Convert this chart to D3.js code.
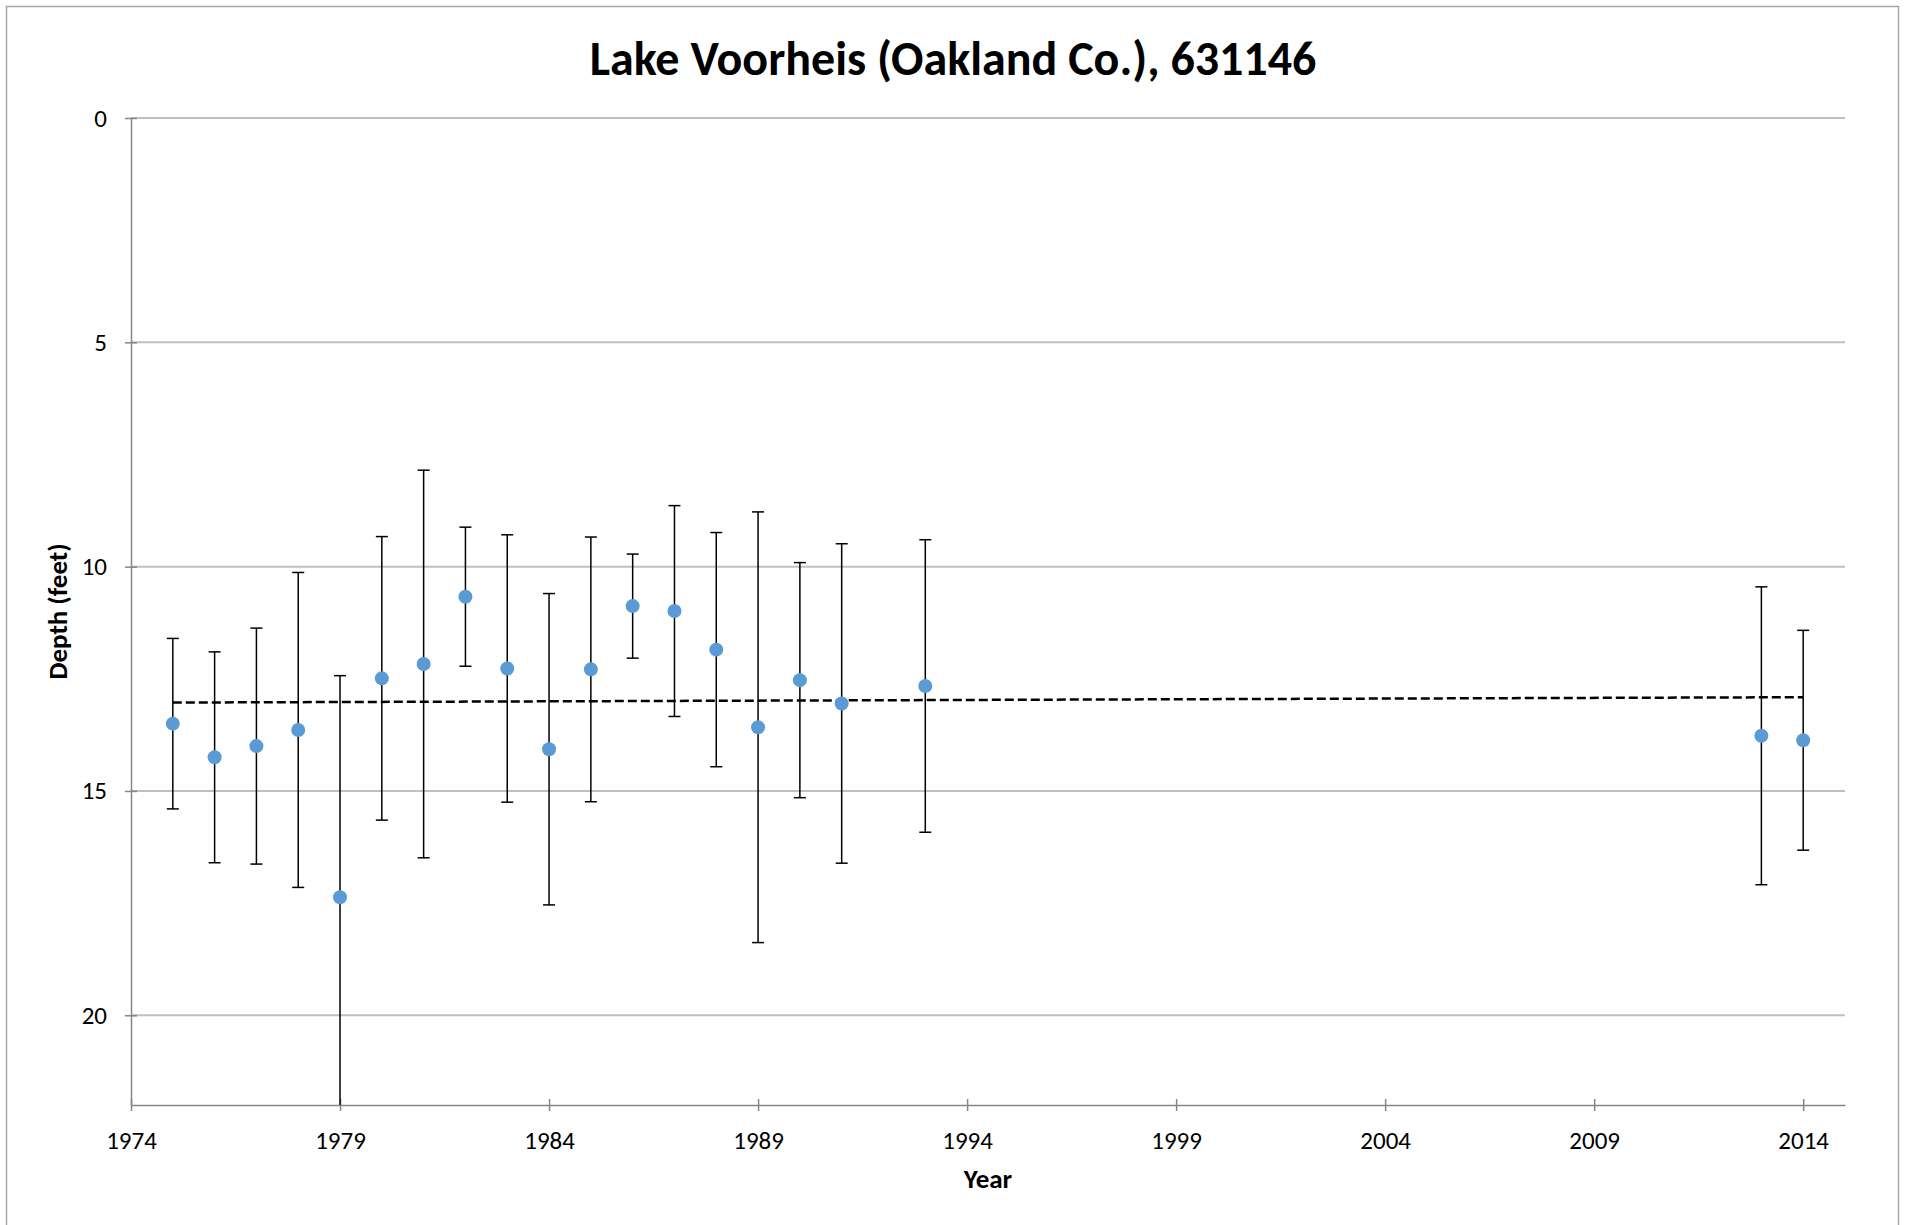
<!DOCTYPE html>
<html>
<head>
<meta charset="utf-8">
<script src="https://cdn.jsdelivr.net/npm/d3@7"></script>
<style>
  body { margin: 0; background: #fff; }
  text { font-family: Carlito, Calibri, Lato, sans-serif; fill: #000; }
</style>
</head>
<body>
<div class="chart"></div>
<script>
// chart data
var years = [1975, 1976, 1977, 1978, 1979, 1980, 1981, 1982, 1983, 1984,
  1985, 1986, 1987, 1988, 1989, 1990, 1991, 1993, 2013, 2014];
var depths = [13.50, 14.25, 14.00, 13.64, 17.37, 12.49, 12.17, 10.67, 12.27, 14.07,
  12.29, 10.88, 10.99, 11.85, 13.58, 12.53, 13.05, 12.66, 13.77, 13.87];
var stdDevs = [1.90, 2.35, 2.63, 3.51, 4.94, 3.16, 4.32, 1.55, 2.98, 3.47,
  2.95, 1.16, 2.35, 2.61, 4.80, 2.62, 3.56, 3.26, 3.32, 2.45];
var trendYears = [1975, 2014];
var trendDepths = [13.03, 12.91];
var xTicks = [1974, 1979, 1984, 1989, 1994, 1999, 2004, 2009, 2014];
var yTicks = [0, 5, 10, 15, 20];

var title = "Lake Voorheis (Oakland Co.), 631146";

// size of SVG
var svgWidth = 1906;
var svgHeight = 1225;

var margin = {
  top: 118,
  right: 61,
  bottom: 120,
  left: 131
};

var width = svgWidth - margin.left - margin.right;
var height = svgHeight - margin.top - margin.bottom;

var svg = d3.select(".chart")
  .append("svg")
  .attr("width", svgWidth)
  .attr("height", svgHeight);

// outer chart border
svg.append("rect")
  .attr("x", 6.5)
  .attr("y", 6.5)
  .attr("width", 1892)
  .attr("height", 1240)
  .attr("fill", "none")
  .attr("stroke", "#a6a6a6")
  .attr("stroke-width", 1.5);

var chartGroup = svg.append("g")
  .attr("transform", `translate(${margin.left}, ${margin.top})`);

// scales
var xScale = d3.scaleLinear()
  .domain([1974, 2015])
  .range([0, width]);

var yScale = d3.scaleLinear()
  .domain([0, 22])
  .range([0, height]);

// horizontal gridlines
chartGroup.append("g")
  .selectAll("line")
  .data(yTicks)
  .enter()
  .append("line")
  .attr("x1", 0)
  .attr("x2", width)
  .attr("y1", d => yScale(d))
  .attr("y2", d => yScale(d))
  .attr("stroke", "#c0c0c0")
  .attr("stroke-width", 2);

// axes (ticks cross the axis line like Excel)
var bottomAxis = d3.axisBottom(xScale)
  .tickValues(xTicks)
  .tickFormat(d3.format("d"))
  .tickSizeInner(12)
  .tickSizeOuter(0)
  .tickPadding(14);

var leftAxis = d3.axisLeft(yScale)
  .tickValues(yTicks)
  .tickSizeInner(12)
  .tickSizeOuter(0)
  .tickPadding(12);

var xAxisG = chartGroup.append("g")
  .attr("transform", `translate(0, ${height})`)
  .call(bottomAxis);
xAxisG.selectAll(".tick line").attr("transform", "translate(0, -6)");

var yAxisG = chartGroup.append("g")
  .call(leftAxis);
yAxisG.selectAll(".tick line").attr("transform", "translate(6, 0)");

[xAxisG, yAxisG].forEach(function (g) {
  g.select(".domain").attr("stroke", "#868686").attr("stroke-width", 1.5);
  g.selectAll(".tick line").attr("stroke", "#868686").attr("stroke-width", 1.5);
  g.selectAll(".tick text")
    .attr("font-size", "25px")
    .attr("font-family", "Carlito, Calibri, Lato, sans-serif")
    .attr("fill", "#000");
});

// clip marks to plot area
svg.append("defs").append("clipPath")
  .attr("id", "plotClip")
  .append("rect")
  .attr("width", width)
  .attr("height", height);

var plot = chartGroup.append("g").attr("clip-path", "url(#plotClip)");

var points = years.map(function (y, i) {
  return { year: y, depth: depths[i], sd: stdDevs[i] };
});

// trendline
var trendLine = d3.line()
  .x(d => xScale(d[0]))
  .y(d => yScale(d[1]));

plot.append("path")
  .datum(trendYears.map((y, i) => [y, trendDepths[i]]))
  .attr("d", trendLine)
  .attr("fill", "none")
  .attr("stroke", "#000")
  .attr("stroke-width", 2.5)
  .attr("stroke-dasharray", "9,4");

// error bars
var bars = plot.append("g").selectAll("g").data(points).enter().append("g");

bars.append("line")
  .attr("x1", d => xScale(d.year))
  .attr("x2", d => xScale(d.year))
  .attr("y1", d => yScale(d.depth - d.sd))
  .attr("y2", d => yScale(d.depth + d.sd))
  .attr("stroke", "#000")
  .attr("stroke-width", 1.5);

bars.append("line")
  .attr("x1", d => xScale(d.year) - 6)
  .attr("x2", d => xScale(d.year) + 6)
  .attr("y1", d => yScale(d.depth - d.sd))
  .attr("y2", d => yScale(d.depth - d.sd))
  .attr("stroke", "#000")
  .attr("stroke-width", 1.5);

bars.append("line")
  .attr("x1", d => xScale(d.year) - 6)
  .attr("x2", d => xScale(d.year) + 6)
  .attr("y1", d => yScale(d.depth + d.sd))
  .attr("y2", d => yScale(d.depth + d.sd))
  .attr("stroke", "#000")
  .attr("stroke-width", 1.5);

// mean depth markers
plot.append("g")
  .selectAll("circle")
  .data(points)
  .enter()
  .append("circle")
  .attr("cx", d => xScale(d.year))
  .attr("cy", d => yScale(d.depth))
  .attr("r", 7)
  .attr("fill", "#5b9bd5");

// title and axis labels
svg.append("text")
  .attr("x", svgWidth / 2)
  .attr("y", 75)
  .attr("text-anchor", "middle")
  .attr("font-size", "48px")
  .attr("font-weight", "bold")
  .text(title);

svg.append("text")
  .attr("transform", `translate(${margin.left + width / 2}, 1188)`)
  .attr("text-anchor", "middle")
  .attr("font-size", "27px")
  .attr("font-weight", "bold")
  .text("Year");

svg.append("text")
  .attr("transform", `translate(67, ${margin.top + height / 2}) rotate(-90)`)
  .attr("text-anchor", "middle")
  .attr("font-size", "27px")
  .attr("font-weight", "bold")
  .text("Depth (feet)");
</script>
</body>
</html>
